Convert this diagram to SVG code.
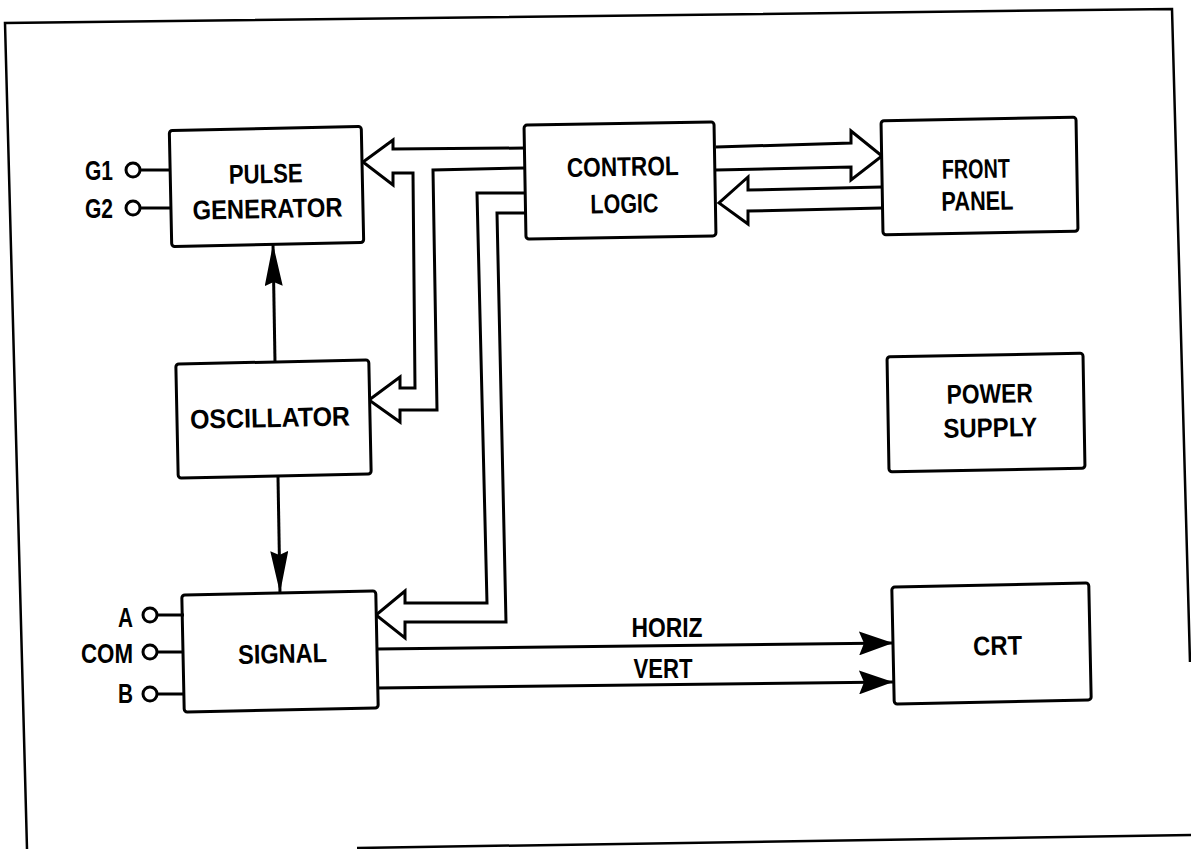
<svg xmlns="http://www.w3.org/2000/svg" width="1191" height="849" viewBox="0 0 1191 849">
<style>
.box{fill:#fff;stroke:#000;stroke-width:3}
.lbl{font-family:"Liberation Sans",Arial,sans-serif;font-weight:bold;font-size:27px;fill:#000;text-anchor:middle}
.pin{font-family:"Liberation Sans",Arial,sans-serif;font-weight:bold;font-size:27px;fill:#000;text-anchor:end}
.wire{fill:none;stroke:#000;stroke-width:3;stroke-linejoin:miter}
.lead{fill:none;stroke:#000;stroke-width:3}
.term{fill:#fff;stroke:#000;stroke-width:3}
.frame{fill:none;stroke:#000;stroke-width:2.5}
</style>
<defs>
<marker id="ahV" markerUnits="userSpaceOnUse" markerWidth="42" markerHeight="18" refX="42" refY="9" orient="auto">
<path d="M0,0 L42,9 L0,18 L4,9 Z" fill="#000"/>
</marker>
<marker id="ahH" markerUnits="userSpaceOnUse" markerWidth="34" markerHeight="24" refX="34" refY="12" orient="auto">
<path d="M0,0 L34,12 L0,24 L5,12 Z" fill="#000"/>
</marker>
</defs>

<g id="frame">
<path class="frame" d="M27,849 L5,23 L1172,9 L1190,662"/>
<path class="frame" d="M357,848 L1191,835"/>
</g>

<g id="connectors">
<path class="wire" d="M525,148 L393,149 L393,140 L363,162 L393,185 L393,173 L413,173 L415,388 L400,388 L400,377 L369,400 L400,422 L400,410 L437,410 L433,170 L525,168"/>
<path class="wire" d="M526,193 L477,193 L487,603 L405,603 L405,591 L376,615 L405,638 L405,622 L506,622 L497,213 L526,213"/>
<path class="wire" d="M716,147 L851,143 L851,131 L882,156 L851,180 L851,167 L716,170"/>
<path class="wire" d="M882,187 L748,190 L748,177 L719,203 L748,224 L748,211 L882,208"/>
<path class="wire" d="M275,362 L273,244" marker-end="url(#ahV)"/>
<path class="wire" d="M278,477 L280,593" marker-end="url(#ahV)"/>
<path class="wire" d="M377,649 L893,643" marker-end="url(#ahH)"/>
<path class="wire" d="M377,688 L893,682" marker-end="url(#ahH)"/>
<text class="lbl" x="667" y="637" textLength="71" lengthAdjust="spacingAndGlyphs">HORIZ</text>
<text class="lbl" x="663" y="678" textLength="59" lengthAdjust="spacingAndGlyphs">VERT</text>
</g>

<g id="pulse-generator" transform="rotate(-1.2 266.5 186.5)">
<rect class="box" x="170.5" y="128.5" width="192" height="116" rx="3"/>
<text class="lbl" x="266" y="183" textLength="74" lengthAdjust="spacingAndGlyphs">PULSE</text>
<text class="lbl" x="267" y="218" textLength="150" lengthAdjust="spacingAndGlyphs">GENERATOR</text>
</g>

<g id="control-logic" transform="rotate(-1 620 180.5)">
<rect class="box" x="525" y="123.5" width="190" height="114" rx="3"/>
<text class="lbl" x="623" y="176" textLength="112" lengthAdjust="spacingAndGlyphs">CONTROL</text>
<text class="lbl" x="624" y="213" textLength="68" lengthAdjust="spacingAndGlyphs">LOGIC</text>
</g>

<g id="front-panel" transform="rotate(-1 979.5 176)">
<rect class="box" x="882" y="119" width="195" height="114" rx="3"/>
<text class="lbl" x="976" y="178" textLength="68" lengthAdjust="spacingAndGlyphs">FRONT</text>
<text class="lbl" x="977" y="210" textLength="72" lengthAdjust="spacingAndGlyphs">PANEL</text>
</g>

<g id="oscillator" transform="rotate(-1.2 273.5 419)">
<rect class="box" x="177" y="362" width="193" height="114" rx="3"/>
<text class="lbl" x="270" y="427" textLength="160" lengthAdjust="spacingAndGlyphs">OSCILLATOR</text>
</g>

<g id="power-supply" transform="rotate(-1 986 412.5)">
<rect class="box" x="888" y="355" width="196" height="115" rx="3"/>
<text class="lbl" x="990" y="403" textLength="86" lengthAdjust="spacingAndGlyphs">POWER</text>
<text class="lbl" x="990" y="437" textLength="94" lengthAdjust="spacingAndGlyphs">SUPPLY</text>
</g>

<g id="signal" transform="rotate(-1.2 280 651.5)">
<rect class="box" x="183" y="593" width="194" height="117" rx="3"/>
<text class="lbl" x="282.5" y="663" textLength="89" lengthAdjust="spacingAndGlyphs">SIGNAL</text>
</g>

<g id="crt" transform="rotate(-1.2 991.5 643.5)">
<rect class="box" x="893" y="585" width="197" height="117" rx="3"/>
<text class="lbl" x="997.5" y="655" textLength="49" lengthAdjust="spacingAndGlyphs">CRT</text>
</g>

<g id="term-G1">
<line class="lead" x1="140" y1="170" x2="171" y2="170"/>
<circle class="term" cx="133" cy="170" r="7"/>
<text class="pin" x="113" y="180" textLength="28" lengthAdjust="spacingAndGlyphs">G1</text>
</g>
<g id="term-G2">
<line class="lead" x1="140" y1="208" x2="171" y2="208"/>
<circle class="term" cx="133" cy="208" r="7"/>
<text class="pin" x="113" y="218" textLength="28" lengthAdjust="spacingAndGlyphs">G2</text>
</g>
<g id="term-A">
<line class="lead" x1="157" y1="615" x2="184" y2="615"/>
<circle class="term" cx="150" cy="615" r="7"/>
<text class="pin" x="133" y="627" textLength="15" lengthAdjust="spacingAndGlyphs">A</text>
</g>
<g id="term-COM">
<line class="lead" x1="157" y1="652" x2="184" y2="652"/>
<circle class="term" cx="150" cy="652" r="7"/>
<text class="pin" x="133" y="663" textLength="52" lengthAdjust="spacingAndGlyphs">COM</text>
</g>
<g id="term-B">
<line class="lead" x1="157" y1="694" x2="185" y2="694"/>
<circle class="term" cx="150" cy="694" r="7"/>
<text class="pin" x="133" y="703" textLength="15" lengthAdjust="spacingAndGlyphs">B</text>
</g>
</svg>
